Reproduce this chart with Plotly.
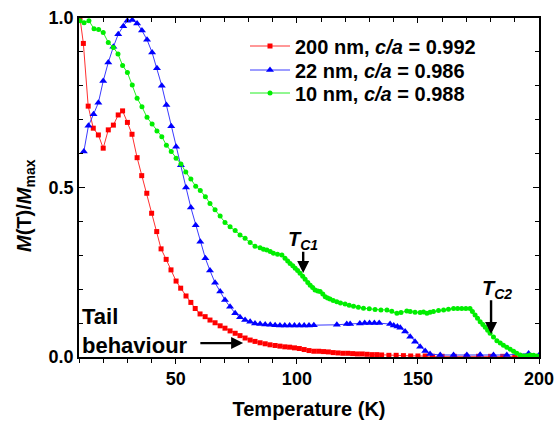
import plotly.graph_objects as go

# ---- data ----
red_x = [10.4, 11.8, 13.8, 15.9, 18, 20, 22.1, 24.2, 26.2, 28, 30, 31.9, 34, 35.9, 38, 40, 42.1, 43.9, 46, 48,
         50.1, 52, 54.2, 56.2, 58, 60, 62.1, 64.1, 66.2, 68.3, 70.3, 72.4, 74.5, 76.5, 78.6, 80.7, 82.7, 84.8,
         86.9, 88.9, 91, 93, 95, 97, 99, 101, 103, 105, 107, 109, 111, 113, 115, 117, 119, 121, 123, 125, 127,
         129, 131, 133, 135, 138, 141, 144, 147, 150, 153, 156, 160, 165, 170, 175, 180, 185, 190, 195, 200]
red_y = [1.0, 0.925, 0.74, 0.675, 0.655, 0.616, 0.67, 0.684, 0.714, 0.726, 0.692, 0.657, 0.588, 0.535, 0.483,
         0.424, 0.37, 0.319, 0.288, 0.257, 0.224, 0.203, 0.18, 0.161, 0.143, 0.127, 0.119, 0.109, 0.101, 0.092,
         0.085, 0.077, 0.07, 0.063, 0.056, 0.05, 0.046, 0.042, 0.039, 0.036, 0.034, 0.032, 0.030, 0.029, 0.027,
         0.025, 0.022, 0.019, 0.017, 0.017, 0.016, 0.015, 0.013, 0.012, 0.011, 0.011, 0.010, 0.009, 0.009, 0.008,
         0.007, 0.007, 0.006, 0.005, 0.005, 0.004, 0.003, 0.003, 0.003, 0.002, 0.002, 0.002, 0.002, 0.002, 0.002,
         0.002, 0.002, 0.002, 0.002]

blue_x = [12.0, 13.9, 16, 18, 20, 22.1, 24.2, 26.2, 28.3, 30, 32, 34, 36, 38.1, 40.2, 42.2, 44.2, 46.1, 48.1,
          50.1, 52.1, 54.2, 56.2, 58.2, 60.1, 62.2, 64.1, 66.2, 68.3, 70.3, 72.4, 74.5, 76.5, 78.6, 80.7, 82.7,
          84.8, 86.9, 89, 91, 93, 95, 97, 99, 101, 103, 105, 107, 116.5, 120.6, 122, 126, 128, 130, 132, 134,
          138.5, 140, 141.5, 142.7, 144.7, 146.8, 148.8, 150.9, 153, 155, 159.2, 164.7, 170.2, 175.7, 181.2,
          186.7, 195.7, 200]
blue_y = [0.606, 0.682, 0.716, 0.75, 0.814, 0.869, 0.915, 0.952, 0.976, 0.992, 0.994, 0.984, 0.963, 0.936,
          0.898, 0.852, 0.8, 0.743, 0.681, 0.62, 0.566, 0.5, 0.441, 0.389, 0.34, 0.291, 0.255, 0.219, 0.193,
          0.168, 0.148, 0.129, 0.117, 0.109, 0.104, 0.099, 0.097, 0.096, 0.095, 0.094, 0.093, 0.093, 0.093,
          0.093, 0.093, 0.093, 0.093, 0.094, 0.095, 0.097, 0.097, 0.099, 0.100, 0.100, 0.100, 0.100, 0.097,
          0.093, 0.090, 0.086, 0.075, 0.060, 0.045, 0.030, 0.018, 0.009, 0.006, 0.006, 0.006, 0.007, 0.006,
          0.006, 0.010, 0.005]

green_x = [10.4, 12.1, 14.1, 16.2, 18.1, 20, 22.1, 24.2, 26.1, 28, 30, 32, 34, 36, 38.1, 40.2, 42.2, 44.2, 46.1,
           48.1, 50.1, 52.1, 54.1, 56.2, 58.2, 60.1, 62.2, 64.1, 66.2, 68.3, 70.3, 72.4, 74.5, 76.5, 78.6, 80.7,
           82.7, 84.8, 86.2, 87.6, 89, 90.3, 92, 93.8, 95.1, 96.2, 97.2, 98.3, 99.3, 100.3, 101.3, 102.4, 103.4,
           104.5, 105.5, 106.5, 107.5, 108.6, 109.6, 110.7, 111.7, 112.7, 113.7, 115, 116.5, 118, 119.9, 121.6,
           123.4, 125.4, 127.5, 129.9, 132.3, 134.7, 137.2, 139.2, 141.3, 143, 145.4, 146.8, 148.8, 150.9, 152.3,
           153.7, 155, 156.4, 158.5, 160.6, 162.6, 164.7, 166.4, 168.1, 169.8, 171.5, 172.5, 173.6, 174.6, 175.7,
           176.8, 177.8, 178.8, 179.8, 181.2, 182.6, 184, 185.3, 186.7, 188.1, 189.5, 190.8, 192.2, 193.6, 195,
           196.4, 197.8, 199.2]
green_y = [0.992, 0.986, 0.992, 0.968, 0.966, 0.957, 0.928, 0.913, 0.894, 0.86, 0.839, 0.802, 0.763, 0.738,
           0.707, 0.687, 0.667, 0.65, 0.625, 0.606, 0.586, 0.569, 0.546, 0.525, 0.504, 0.491, 0.473, 0.453,
           0.434, 0.416, 0.397, 0.384, 0.373, 0.36, 0.35, 0.338, 0.327, 0.322, 0.318, 0.316, 0.311, 0.306, 0.303,
           0.301, 0.291, 0.283, 0.276, 0.269, 0.262, 0.255, 0.247, 0.238, 0.229, 0.22, 0.212, 0.205, 0.198,
           0.195, 0.193, 0.186, 0.178, 0.174, 0.171, 0.167, 0.163, 0.159, 0.156, 0.153, 0.15, 0.147, 0.144,
           0.142, 0.14, 0.139, 0.139, 0.135, 0.129, 0.131, 0.136, 0.134, 0.132, 0.131, 0.133, 0.129, 0.132,
           0.134, 0.137, 0.139, 0.141, 0.143, 0.143, 0.143, 0.143, 0.143, 0.134, 0.124, 0.114, 0.104, 0.096,
           0.088, 0.079, 0.07, 0.059, 0.048, 0.041, 0.035, 0.029, 0.023, 0.017, 0.011, 0.006, 0.003, 0.004,
           0.006, 0.005, 0.003]

series_names = ["200 nm, <i>c/a</i> = 0.992", "22 nm, <i>c/a</i> = 0.986", "10 nm, <i>c/a</i> = 0.988"]
x_ticks = [50, 100, 150, 200]
y_ticks = [0.0, 0.5, 1.0]
y_tick_labels = ["0.0", "0.5", "1.0"]

FONT = "Liberation Sans, Arial, sans-serif"

# plot area in pixels
L, R, T, B = 79, 17, 18, 65
W, H = 556, 422
PW, PH = W - L - R, H - T - B


def px_to_paper_x(px):
    return (px - L) / PW


def px_to_paper_y(py):
    return 1 - (py - T) / PH


fig = go.Figure()
fig.add_trace(go.Scatter(x=red_x, y=red_y, mode="lines+markers", name=series_names[0], legend="legend",
                         line=dict(color="#ff3030", width=1),
                         marker=dict(symbol="square", size=5, color="#ff0000")))
fig.add_trace(go.Scatter(x=blue_x, y=blue_y, mode="lines+markers", name=series_names[1], legend="legend2",
                         line=dict(color="#3a3aff", width=1),
                         marker=dict(symbol="triangle-up", size=7, color="#0000ff")))
fig.add_trace(go.Scatter(x=green_x, y=green_y, mode="lines+markers", name=series_names[2], legend="legend3",
                         line=dict(color="#22ee22", width=1),
                         marker=dict(symbol="circle", size=5, color="#00ee00")))
# invisible trace for the top axis
fig.add_trace(go.Scatter(x=[10, 200], y=[0, 0], xaxis="x2", mode="markers",
                         marker=dict(opacity=0), showlegend=False, hoverinfo="skip"))

leg_font = dict(family=FONT, size=20, color="black", weight="bold")
leg_x = px_to_paper_x(245)


def leg(py):
    return dict(x=leg_x, y=px_to_paper_y(py), xanchor="left", yanchor="middle",
                bgcolor="rgba(0,0,0,0)", font=leg_font, itemwidth=40, borderwidth=0)


fig.update_layout(
    width=W, height=H,
    margin=dict(l=L, r=R, t=T, b=B),
    paper_bgcolor="white", plot_bgcolor="white",
    font=dict(family=FONT, color="black"),
    showlegend=True,
    legend=leg(46), legend2=leg(70), legend3=leg(93),
    xaxis=dict(range=[10, 200], tickvals=x_ticks, ticks="outside", ticklen=5, tickwidth=1.2,
               tickcolor="black", showline=True, linecolor="black", linewidth=1.5, mirror=False,
               showgrid=False, zeroline=False, automargin=False,
               tickfont=dict(family=FONT, size=18, color="black", weight="bold"),
               minor=dict(dtick=10, tick0=0, ticks="outside", ticklen=4, tickcolor="black", tickwidth=1),
               title=dict(text="Temperature (K)", font=dict(family=FONT, size=20, color="black", weight="bold"),
                          standoff=14)),
    xaxis2=dict(range=[10, 200], overlaying="x", side="top", tickvals=x_ticks, ticks="inside", ticklen=5,
                tickcolor="black", showticklabels=False, showline=True, linecolor="black", linewidth=1.5,
                showgrid=False, zeroline=False, automargin=False,
                minor=dict(dtick=10, tick0=0, ticks="inside", ticklen=4, tickcolor="black")),
    yaxis=dict(range=[0, 1.0], tickvals=y_ticks, ticktext=y_tick_labels, ticks="inside", ticklen=6,
               tickcolor="black", tickwidth=1.2, showline=True, linecolor="black", linewidth=1.5,
               mirror="ticks", showgrid=False, zeroline=False, automargin=False,
               tickfont=dict(family=FONT, size=18, color="black", weight="bold"),
               minor=dict(dtick=0.1, tick0=0, ticks="inside", ticklen=4, tickcolor="black")),
)

# y-axis title (as rotated annotation for exact placement)
fig.add_annotation(x=px_to_paper_x(25), y=px_to_paper_y(206), xref="paper", yref="paper",
                   text="<i>M</i>(T)/<i>M</i><sub>max</sub>", textangle=-90, showarrow=False,
                   xanchor="center", yanchor="middle",
                   font=dict(family=FONT, size=20, color="black", weight="bold"))

ann_font = dict(family=FONT, size=22, color="black", weight="bold")
tc_font = dict(family=FONT, size=20, color="black", weight="bold")
fig.add_annotation(x=10.4, y=0.12, xref="x", yref="y", text="Tail", showarrow=False,
                   xanchor="left", yanchor="middle", font=ann_font)
fig.add_annotation(x=10.4, y=0.035, xref="x", yref="y", text="behaviour", showarrow=False,
                   xanchor="left", yanchor="middle", font=ann_font)
fig.add_annotation(x=77.8, y=0.041, ax=59.5, ay=0.041, xref="x", yref="y", axref="x", ayref="y",
                   text="", showarrow=True, arrowhead=2, arrowsize=1, arrowwidth=2.4, arrowcolor="black")
fig.add_annotation(x=95.5, y=0.345, xref="x", yref="y", text="<i>T</i><sub><i>C1</i></sub>",
                   showarrow=False, xanchor="left", yanchor="middle", font=tc_font)
fig.add_annotation(x=102.6, y=0.248, ax=102.6, ay=0.315, xref="x", yref="y", axref="x", ayref="y",
                   text="", showarrow=True, arrowhead=2, arrowsize=1, arrowwidth=2.4, arrowcolor="black")
fig.add_annotation(x=175.5, y=0.2, xref="x", yref="y", text="<i>T</i><sub><i>C2</i></sub>",
                   showarrow=False, xanchor="left", yanchor="middle", font=tc_font)
fig.add_annotation(x=180.2, y=0.068, ax=180.2, ay=0.172, xref="x", yref="y", axref="x", ayref="y",
                   text="", showarrow=True, arrowhead=2, arrowsize=1, arrowwidth=2.4, arrowcolor="black")

fig.write_html("out.html")
